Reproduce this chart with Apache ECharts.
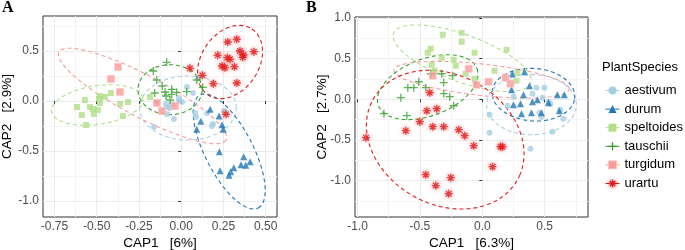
<!DOCTYPE html>
<html>
<head>
<meta charset="utf-8">
<script src="https://cdn.jsdelivr.net/npm/echarts@6/dist/echarts.min.js"></script>
<style>
    html, body { margin: 0; padding: 0; background: #fff; }
    #chart { width: 685px; height: 250px; }
</style>
</head>
<body>
<div id="chart"></div>
<script>
// species and their colours
var species = ['aestivum', 'durum', 'speltoides', 'tauschii', 'turgidum', 'urartu'];
var colors = ['#A6CEE3', '#1F78B4', '#B2DF8A', '#33A02C', '#FB9A99', '#E31A1C'];

// panel A points  [CAP1, CAP2]
var aestivumA = [[-0.161,-0.26],[-0.149,-0.01],[-0.090,-0.03],[-0.084,-0.06],[-0.066,-0.07],[-0.084,-0.13],[-0.055,-0.03],[-0.043,-0.18],[-0.013,0.00],[-0.013,0.03],[0.005,-0.01],[0.034,0.14],[0.070,0.08],[0.100,0.23],[0.082,-0.12],[0.088,-0.16],[0.188,-0.23],[0.182,-0.25],[0.254,-0.10],[0.153,-0.12]];
var durumA = [[0.171,-0.083],[0.224,-0.15],[0.116,-0.203],[0.092,-0.283],[0.242,-0.237],[0.249,-0.283],[0.226,-0.507],[0.230,-0.697],[0.283,-0.743],[0.293,-0.707],[0.311,-0.667],[0.370,-0.557],[0.354,-0.637],[0.382,-0.643],[0.408,-0.607]];
var speltoidesA = [[-0.617,-0.06],[-0.588,-0.14],[-0.570,0.01],[-0.564,-0.24],[-0.540,-0.06],[-0.523,-0.08],[-0.517,-0.13],[-0.493,-0.09],[-0.487,0.02],[-0.481,0.05],[-0.451,0.04],[-0.481,-0.02],[-0.416,0.08],[-0.362,-0.03],[-0.345,-0.15],[-0.315,-0.01],[-0.185,0.04]];
var tauschiiA = [[-0.086,0.387],[-0.165,0.30],[-0.145,0.21],[-0.112,0.15],[-0.157,0.08],[-0.090,0.05],[-0.056,0.117],[-0.056,0.067],[-0.066,0.01],[-0.027,0.087],[0.033,0.093],[0.092,0.21],[0.127,0.137],[-0.096,0.09]];
var turgidumA = [[-0.374,0.34],[-0.416,0.22],[-0.363,0.09],[-0.143,-0.02],[-0.114,-0.10],[-0.037,-0.05]];
var urartuA = [[0.052,0.327],[0.125,0.257],[0.190,0.173],[0.216,0.457],[0.242,0.35],[0.259,0.333],[0.273,0.433],[0.289,0.417],[0.275,0.59],[0.329,0.617],[0.315,0.343],[0.329,0.18],[0.348,0.50],[0.368,0.46],[0.364,0.437],[0.430,0.493],[0.265,-0.133]];

// panel B points
var aestivumB = [[0.058,-0.189],[0.058,-0.410],[0.386,-0.607],[0.434,0.143],[0.498,0.143],[0.402,0.069],[0.482,0.020],[0.530,-0.029],[0.458,-0.165],[0.474,-0.214],[0.562,-0.398],[0.202,-0.079],[0.250,0.032],[0.625,-0.128],[0.649,-0.238],[0.546,-0.054]];
var durumB = [[0.242,0.314],[0.338,0.339],[0.234,0.118],[0.378,0.167],[0.330,0.057],[0.250,-0.066],[0.306,-0.054],[0.402,-0.029],[0.442,-0.005],[0.530,-0.042],[0.314,-0.177],[0.394,-0.165],[0.474,-0.165],[0.601,0.057],[0.657,0.057],[0.617,-0.140]];
var speltoidesB = [[-0.317,0.794],[-0.165,0.818],[-0.165,0.708],[-0.413,0.622],[-0.437,0.573],[-0.325,0.511],[-0.229,0.487],[-0.213,0.413],[-0.405,0.425],[-0.381,0.351],[-0.134,0.314],[-0.062,0.573],[-0.062,0.253],[0.098,0.351],[0.194,0.609],[0.282,0.327],[0.274,0.229]];
var tauschiiB = [[-0.788,-0.177],[-0.605,-0.201],[-0.653,0.020],[-0.597,0.143],[-0.549,0.143],[-0.509,0.216],[-0.453,0.143],[-0.413,0.314],[-0.325,0.314],[-0.237,0.290],[-0.309,0.204],[-0.309,0.069],[-0.261,0.032],[-0.229,-0.079]];
var turgidumB = [[-0.397,0.290],[-0.109,0.376],[-0.046,0.179],[0.050,0.216],[0.186,0.265],[0.226,0.192]];
var urartuB = [[-0.421,0.081],[-0.445,-0.140],[-0.365,-0.115],[-0.501,-0.275],[-0.613,-0.386],[-0.397,-0.337],[-0.309,-0.337],[-0.189,-0.373],[-0.141,-0.447],[-0.069,-0.570],[-0.932,-0.472],[0.082,-0.828],[0.146,-0.582],[0.162,-0.582],[-0.453,-0.926],[-0.253,-0.963],[-0.373,-1.061],[-0.269,-1.160]];

// confidence ellipses: [centre x, centre y, axis1 x, axis1 y, axis2 x, axis2 y]
var ellipseA = [
    [0.04, -0.07, 0.286, 0, 0, 0.32],
    [0.284, -0.505, 0.172, -0.565, 0.126, 0.11],
    [-0.496, -0.04, 0.27, 0.07, -0.02, 0.19],
    [-0.066, 0.113, 0.19, 0, 0, 0.25],
    [-0.229, 0.05, 0.495, -0.44, -0.058, -0.186],
    [0.289, 0.39, 0.130, 0.33, 0.142, -0.16]
];
var ellipseB = [
    [0.394, -0.066, 0.36, 0, 0, 0.37],
    [0.41, 0.057, 0.33, -0.05, 0.03, 0.32],
    [-0.161, 0.505, 0.551, -0.24, -0.056, 0.332],
    [-0.437, 0.149, 0.395, 0.227, 0.08, -0.328],
    [-0.006, 0.241, 0.703, -0.11, -0.016, 0.197],
    [-0.297, -0.496, 0.599, -0.43, -0.2, -0.737]
];

// tick labels
var xTicksA = [-0.75, -0.5, -0.25, 0, 0.25, 0.5];
var xMinorA = [-0.625, -0.375, -0.125, 0.125, 0.375];
var yTicksA = [-1.0, -0.5, 0, 0.5];
var yMinorA = [-0.75, -0.25, 0.25, 0.75];
var xTicksB = [-1.0, -0.5, 0, 0.5];
var xMinorB = [-0.75, -0.25, 0.25, 0.75];
var yTicksB = [-1.0, -0.5, 0, 0.5, 1.0];
var yMinorB = [-1.25, -0.75, -0.25, 0.25, 0.75];

var pointsA = [aestivumA, durumA, speltoidesA, tauschiiA, turgidumA, urartuA];
var pointsB = [aestivumB, durumB, speltoidesB, tauschiiB, turgidumB, urartuB];

var plusPath = 'path://M4 0V8M0 4H8';
var starPath = 'path://M4 0V8M0 4H8M1.2 1.2L6.8 6.8M6.8 1.2L1.2 6.8';
var symbols = ['circle', 'triangle', 'rect', plusPath, 'rect', starPath];
var sizes = [6, 7, 6, 8, 7, 8];
var stroked = [false, false, false, true, false, true];

var font = 'Liberation Sans, Arial, sans-serif';

function ellipsePoints(e) {
    var pts = [];
    for (var i = 0; i <= 120; i++) {
        var t = 2 * Math.PI * i / 120;
        pts.push([e[0] + Math.cos(t) * e[2] + Math.sin(t) * e[4],
                  e[1] + Math.cos(t) * e[3] + Math.sin(t) * e[5]]);
    }
    return pts;
}

function pointStyle(i) {
    if (stroked[i]) {
        return {color: 'rgba(0,0,0,0)', borderColor: colors[i], borderWidth: 1.3,
            shadowBlur: i === 5 ? 4 : 0, shadowColor: 'rgba(227,26,28,0.6)'};
    }
    if (i === 4) {
        return {color: colors[i], borderColor: '#FDC6C5', borderWidth: 1};
    }
    return {color: colors[i]};
}

function majorAxis(grid, min, max, ticks, digits, name, gap) {
    return {
        type: 'value', gridIndex: grid, min: min, max: max,
        axisLine: {show: false},
        axisTick: {show: true, customValues: ticks, length: 3, lineStyle: {color: '#333', width: 1}},
        axisLabel: {customValues: ticks, color: '#4D4D4D', fontSize: 12, fontFamily: font, margin: 4,
            formatter: function (v) { return v.toFixed(digits); }},
        splitLine: {show: true, lineStyle: {color: '#EBEBEB', width: 1}},
        name: name, nameLocation: 'middle', nameGap: gap, nameMoveOverlap: false,
        nameTextStyle: {color: '#000', fontSize: 13.5, fontFamily: font}
    };
}

function minorAxis(grid, min, max, ticks) {
    return {
        type: 'value', gridIndex: grid, min: min, max: max,
        axisLine: {show: false},
        axisTick: {show: false, customValues: ticks},
        axisLabel: {show: false, customValues: ticks},
        splitLine: {show: true, lineStyle: {color: '#F4F4F4', width: 1}}
    };
}

var myChart = echarts.init(document.getElementById('chart'), null, {renderer: 'canvas'});

var series = [];
// ellipses first so the legend takes its icon (line + symbol) from them
species.forEach(function (sp, i) {
    [ellipseA, ellipseB].forEach(function (ell, p) {
        series.push({
            name: sp, type: 'line', xAxisIndex: p * 2, yAxisIndex: p * 2,
            data: ellipsePoints(ell[i]), showSymbol: false, symbol: symbols[i],
            itemStyle: pointStyle(i), silent: true, z: 3,
            lineStyle: {color: colors[i], width: 1.1, type: [4, 3]}
        });
    });
});
species.forEach(function (sp, i) {
    [pointsA, pointsB].forEach(function (pts, p) {
        series.push({
            name: sp, type: 'scatter', xAxisIndex: p * 2, yAxisIndex: p * 2,
            data: pts[i], symbol: symbols[i], symbolSize: sizes[i],
            itemStyle: pointStyle(i), z: 4
        });
    });
});

var legendData = species.map(function (sp, i) {
    return {
        name: sp,
        itemStyle: pointStyle(i),
        lineStyle: {color: colors[i], width: 1, type: 'solid'}
    };
});

var option = {
    animation: false,
    title: [
        {text: 'A', left: 2, top: 0, padding: 0, textStyle: {fontFamily: 'Liberation Serif, serif', fontWeight: 'bold', fontSize: 16, color: '#000'}},
        {text: 'B', left: 306, top: 0, padding: 0, textStyle: {fontFamily: 'Liberation Serif, serif', fontWeight: 'bold', fontSize: 16, color: '#000'}},
        {text: 'PlantSpecies', left: 602, top: 61, padding: 0, textStyle: {fontFamily: font, fontWeight: 'normal', fontSize: 13, color: '#000'}}
    ],
    grid: [
        {left: 43, top: 16, width: 234, height: 201, show: true, borderColor: '#333', borderWidth: 1, backgroundColor: '#fff', outerBoundsMode: 'none', containLabel: false},
        {left: 355, top: 17, width: 233, height: 200, show: true, borderColor: '#333', borderWidth: 1, backgroundColor: '#fff', outerBoundsMode: 'none', containLabel: false}
    ],
    xAxis: [
        majorAxis(0, -0.818, 0.567, xTicksA, 2, 'CAP1   [6%]', 19),
        minorAxis(0, -0.818, 0.567, xMinorA),
        majorAxis(1, -1.02, 0.847, xTicksB, 1, 'CAP1   [6.3%]', 19),
        minorAxis(1, -1.02, 0.847, xMinorB)
    ],
    yAxis: [
        majorAxis(0, -1.16, 0.85, yTicksA, 1, 'CAP2   [2.9%]', 29),
        minorAxis(0, -1.16, 0.85, yMinorA),
        majorAxis(1, -1.447, 1.012, yTicksB, 1, 'CAP2   [2.7%]', 26),
        minorAxis(1, -1.447, 1.012, yMinorB)
    ],
    legend: {
        data: legendData, orient: 'vertical', left: 605, top: 84, padding: 0,
        itemWidth: 14, itemHeight: 10, itemGap: 5.6,
        textStyle: {fontSize: 13, color: '#000', fontFamily: font},
        selectedMode: false
    },
    series: series
};
myChart.setOption(option);
</script>
</body>
</html>
